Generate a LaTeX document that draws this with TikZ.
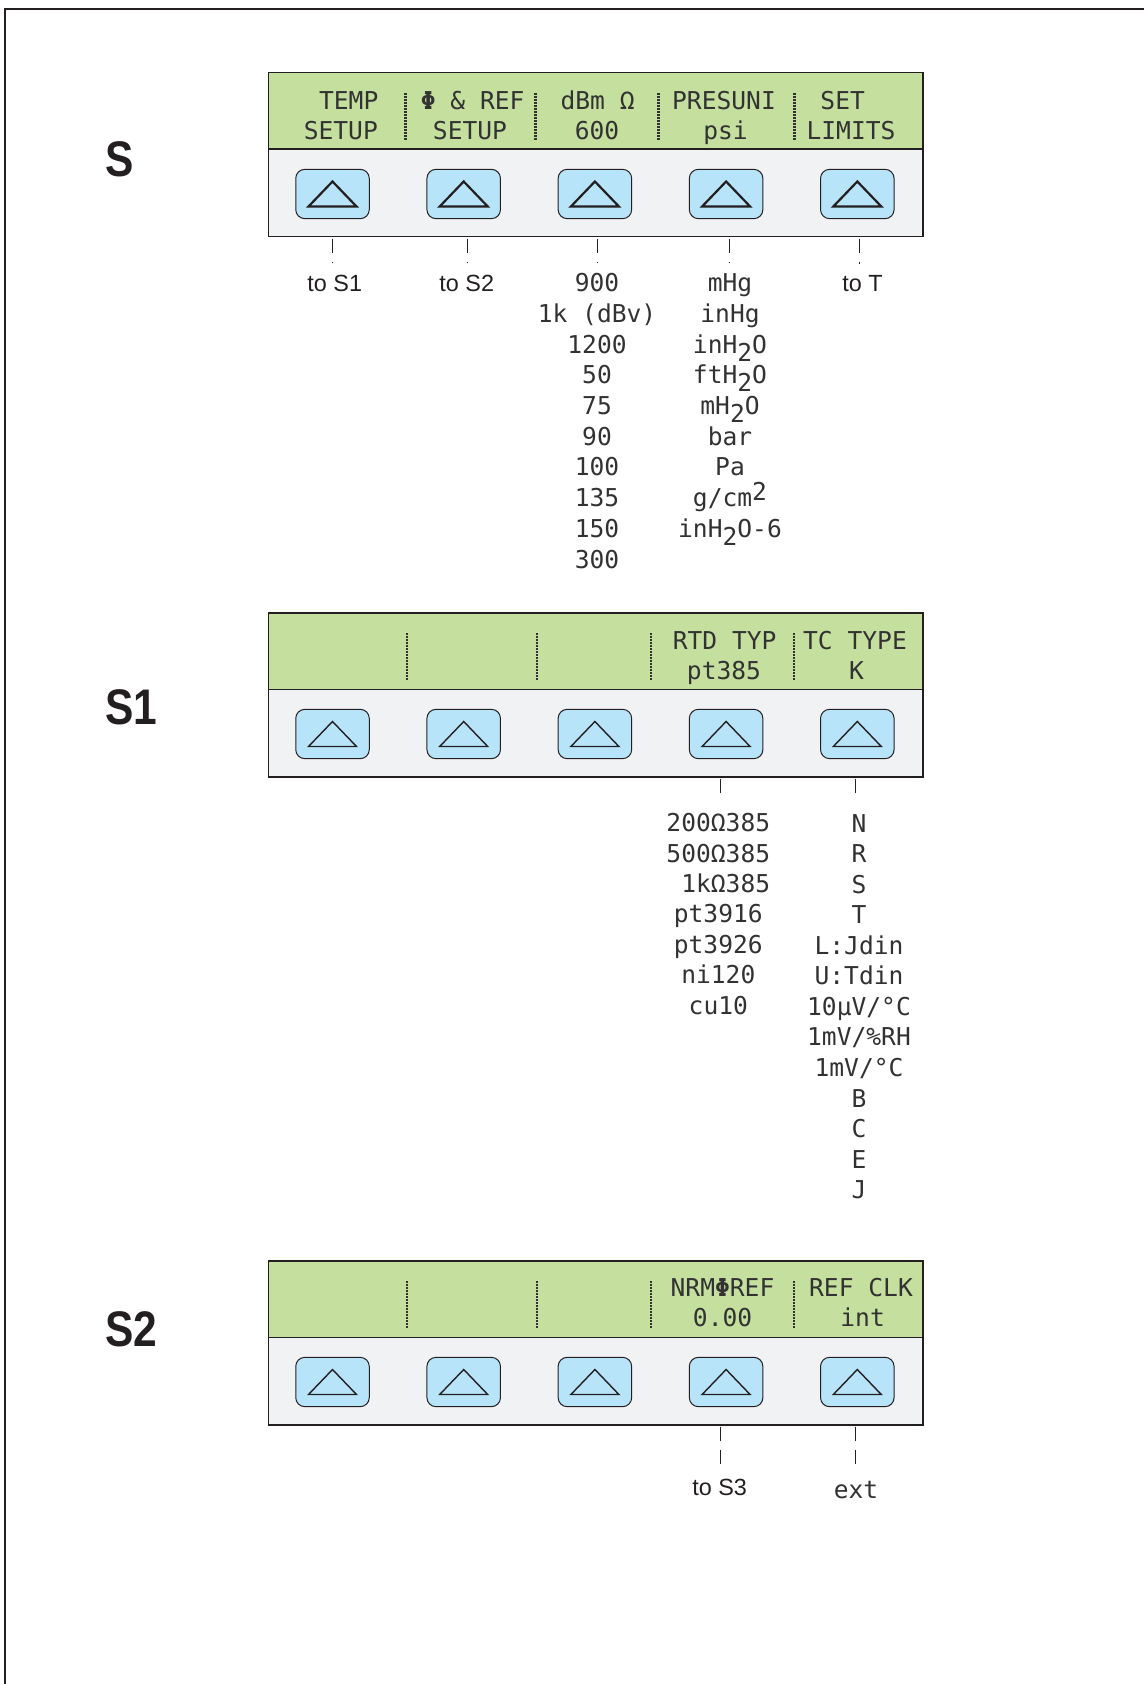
\documentclass[tikz,border=0pt]{standalone}
\usepackage{fontspec}
\setmainfont{Liberation Sans}
\newfontfamily\lcd{DejaVu Sans Mono}
\definecolor{lcdgreen}{RGB}{197,224,158}
\definecolor{keygrey}{RGB}{241,242,244}
\definecolor{keyblue}{RGB}{184,228,250}
\definecolor{ink}{RGB}{35,31,32}
\definecolor{lcdink}{RGB}{50,50,50}
\newcommand{\lo}[1]{\raisebox{-4pt}{#1}}
\newcommand{\hi}[1]{\raisebox{3pt}{#1}}
\tikzset{
  lcdtext/.style={font=\lcd\fontsize{12.3}{14}\selectfont, text=lcdink, inner sep=0pt, anchor=base},
  lbl/.style={font=\fontsize{11.7}{14}\selectfont, text=ink, inner sep=0pt, anchor=base},
  menu/.style={font=\bfseries\fontsize{25}{30}\selectfont, text=ink, inner sep=0pt, anchor=west},
  key/.style={draw=ink, fill=keyblue, rounded corners=4.5pt, line width=0.5pt,
    minimum width=36.75pt, minimum height=24.65pt},
  sep/.style={lcdink, line width=1.4pt, dash pattern=on 1.2pt off 0.3pt},
  lead/.style={ink, line width=0.5pt, dash pattern=on 7pt off 4.5pt},
}
\begin{document}
\begin{tikzpicture}[x=0.5pt, y=-0.5pt]
\useasboundingbox (0,0) rectangle (1144,1684);
\draw[ink, line width=1pt] (5,1684) -- (5,9) -- (1144,9);

\foreach \p/\dy/\tw in {S/0/1.1pt, S1/540/0.7pt, S2/1188/0.7pt} {
  \fill[lcdgreen] (268.5,72.7+\dy) rectangle (923,149.3+\dy);
  \fill[keygrey] (268.5,149.3+\dy) rectangle (923,236.7+\dy);
  \draw[ink, line width=0.8pt] (268.5,72.7+\dy) rectangle (923,236.7+\dy)
    (268.5,149.3+\dy) -- (923,149.3+\dy);
  \foreach \k in {1,...,5} {
    \node[key] (\p-k\k) at (332.5+131.2*\k-131.2,194+\dy) {};
    \draw[ink, line width=\tw, shift={(\p-k\k.center)}]
      (-24,12.5) -- (0,-12.5) -- (24,12.5) -- cycle;
  }
}

\node[menu] (menuS) at (105,159) {\scalebox{0.85}[1]{S}};
\node[menu] (menuS1) at (105,707) {\scalebox{0.85}[1]{S1}};
\node[menu] (menuS2) at (105,1329) {\scalebox{0.85}[1]{S2}};

\foreach \x in {405.3,535.6,658.7,794.2} \draw[sep] (\x,93) -- (\x,140);
\foreach \x in {407,537,651,794} {
  \draw[sep] (\x,633) -- (\x,680);
  \draw[sep] (\x,1281) -- (\x,1328);
}

\node[lcdtext] (S-a1) at (348.7,109.3) {TEMP};
\node[lcdtext] (S-b1) at (340.8,140) {SETUP};
\node[lcdtext] (S-a2) at (472.7,109.3) {\textbf{Φ} \& REF};
\node[lcdtext] (S-b2) at (470,140) {SETUP};
\node[lcdtext] (S-a3) at (597.6,109.3) {dBm Ω};
\node[lcdtext] (S-b3) at (597,140) {600};
\node[lcdtext] (S-a4) at (724,109.3) {PRESUNI};
\node[lcdtext] (S-b4) at (725.5,140) {psi};
\node[lcdtext] (S-a5) at (842.7,109.3) {SET};
\node[lcdtext] (S-b5) at (851,140) {LIMITS};

\node[lcdtext] (S1-a4) at (724.6,649.3) {RTD TYP};
\node[lcdtext] (S1-b4) at (724,679.3) {pt385};
\node[lcdtext] (S1-a5) at (855,649.3) {TC TYPE};
\node[lcdtext] (S1-b5) at (856.4,679.3) {K};

\node[lcdtext] (S2-a4) at (722.5,1296.7) {NRM\textbf{Φ}REF};
\node[lcdtext] (S2-b4) at (722.6,1326.7) {0.00};
\node[lcdtext] (S2-a5) at (861,1296.7) {REF CLK};
\node[lcdtext] (S2-b5) at (862.6,1326.7) {int};

\node[lbl] (toS1) at (334.8,291.7) {to S1};
\node[lbl] (toS2) at (466.8,291.7) {to S2};
\node[lbl] (toT) at (862.6,291.7) {to T};
\foreach \t [count=\i] in {900, 1k (dBv), 1200, 50, 75, 90, 100, 135, 150, 300}
  \node[lcdtext] (ohm\i) at (597,291.7+30.7*\i-30.7) {\t};
\foreach \t [count=\i] in {mHg, inHg, {inH\lo{2}O}, {ftH\lo{2}O}, {mH\lo{2}O}, bar, Pa,
    {g/cm\hi{2}}, {inH\lo{2}O-6}}
  \node[lcdtext] (pres\i) at (730,291.7+30.7*\i-30.7) {\t};

\foreach \t [count=\i] in {200Ω385, 500Ω385, {\phantom{0}1kΩ385}, pt3916, pt3926, ni120, cu10}
  \node[lcdtext] (rtd\i) at (718.3,831.7+30.4*\i-30.4) {\t};
\foreach \t [count=\i] in {N, R, S, T, L:Jdin, U:Tdin, 10µV/°C, 1mV/\%RH, 1mV/°C, B, C, E, J}
  \node[lcdtext] (tc\i) at (859,832+30.56*\i-30.56) {\t};

\node[lbl] (toS3) at (719.7,1495) {to S3};
\node[lcdtext] (ext) at (856,1498) {ext};

\coordinate (S-l1) at (332.6,239);
\coordinate (S-l2) at (467,239);
\coordinate (S-l3) at (597.6,239);
\coordinate (S-l4) at (729,239);
\coordinate (S-l5) at (859.6,239);
\coordinate (S1-l4) at (720.7,779);
\coordinate (S1-l5) at (855.5,779);
\coordinate (S2-l4) at (720.3,1426.7);
\coordinate (S2-l5) at (855,1426.7);
\draw[lead, shorten >=5.8pt] (S-l1) -- (S-l1 |- toS1.north);
\draw[lead, shorten >=5.8pt] (S-l2) -- (S-l2 |- toS2.north);
\draw[lead, shorten >=5.5pt] (S-l3) -- (S-l3 |- ohm1.north);
\draw[lead, shorten >=5.5pt] (S-l4) -- (S-l4 |- pres1.north);
\draw[lead, shorten >=5.8pt] (S-l5) -- (S-l5 |- toT.north);
\draw[lead, shorten >=6pt] (S1-l4) -- (S1-l4 |- rtd1.north);
\draw[lead, shorten >=6pt] (S1-l5) -- (S1-l5 |- tc1.north);
\draw[lead, shorten >=6.5pt] (S2-l4) -- (S2-l4 |- toS3.north);
\draw[lead, shorten >=7.5pt] (S2-l5) -- (S2-l5 |- ext.north);
\end{tikzpicture}
\end{document}
